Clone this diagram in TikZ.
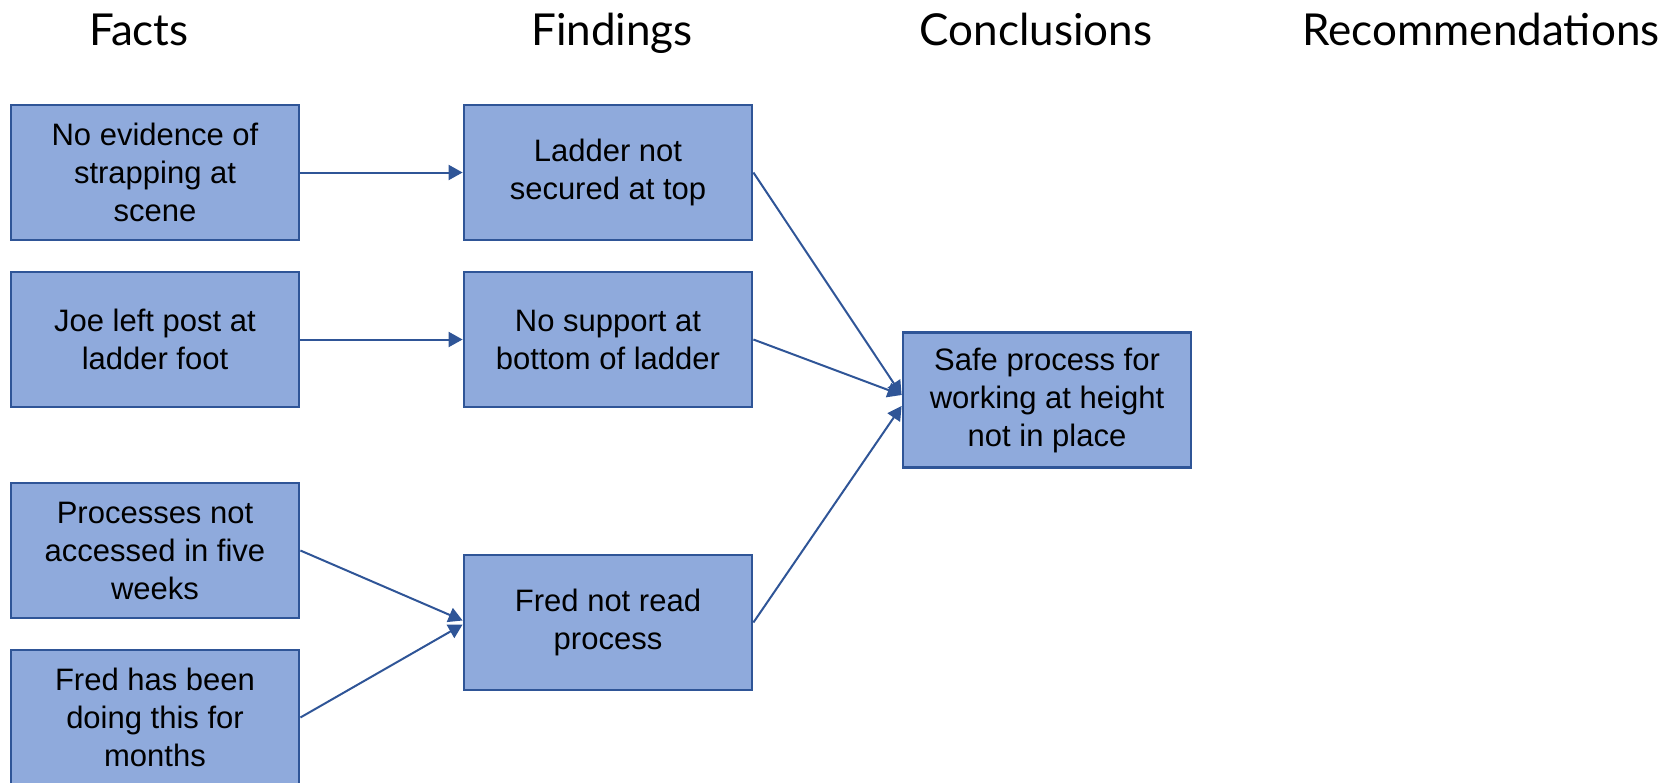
\documentclass[tikz,border=0pt]{standalone}
\usepackage{fontspec}
\setmainfont{Liberation Sans}
\newfontfamily\headfont{Lato}
\usetikzlibrary{arrows.meta}
\definecolor{boxfill}{HTML}{8FAADC}
\definecolor{boxline}{HTML}{2F5597}
\tikzset{
  card/.style={draw=boxline, line width=2.8pt, fill=boxfill, minimum width=288pt,
    minimum height=135pt, inner sep=0pt, align=center, text=black,
    font=\fontsize{31}{38}\selectfont},
  head/.style={anchor=base, font=\headfont\fontsize{44}{50}\selectfont, text=black},
  link/.style={draw=boxline, line width=2pt, -{Triangle[length=14pt,width=15pt]}}
}
\begin{document}
\begin{tikzpicture}[x=1pt,y=1pt]
\useasboundingbox (0,0) rectangle (1678,-782);

% column titles
\node[head] (hFacts) at (139,-45) {Facts};
\node[head] (hFind)  at (612,-45) {Findings};
\node[head] (hConc)  at (1036,-45) {Conclusions};
\node[head] (hRec)   at (1481,-45) {Recommendations};

% facts
\node[card] (f1) at (155,-172.5) {No evidence of\\strapping at\\scene};
\node[card] (f2) at (155,-339.5) {Joe left post at\\ladder foot};
\node[card] (f3) at (155,-550.5) {Processes not\\accessed in five\\weeks};
\node[card] (f4) at (155,-717.5) {Fred has been\\doing this for\\months};

% findings
\node[card] (g1) at (608,-172.5) {Ladder not\\secured at top};
\node[card] (g2) at (608,-339.5) {No support at\\bottom of ladder};
\node[card] (g3) at (608,-622.5) {Fred not read\\process};

% conclusion
\node[card] (c1) at (1047,-400) {Safe process for\\working at height\\not in place};

% connectors
\draw[link] (f1.east) -- (g1.west);
\draw[link] (f2.east) -- (g2.west);
\draw[link] (f3.east) -- ([yshift=2pt]g3.west);
\draw[link] (f4.east) -- ([yshift=-2pt]g3.west);
\draw[link] (g1.east) -- ([yshift=5pt]c1.west);
\draw[link] (g2.east) -- ([yshift=5pt]c1.west);
\draw[link] (g3.east) -- ([yshift=-6pt]c1.west);
\end{tikzpicture}
\end{document}
